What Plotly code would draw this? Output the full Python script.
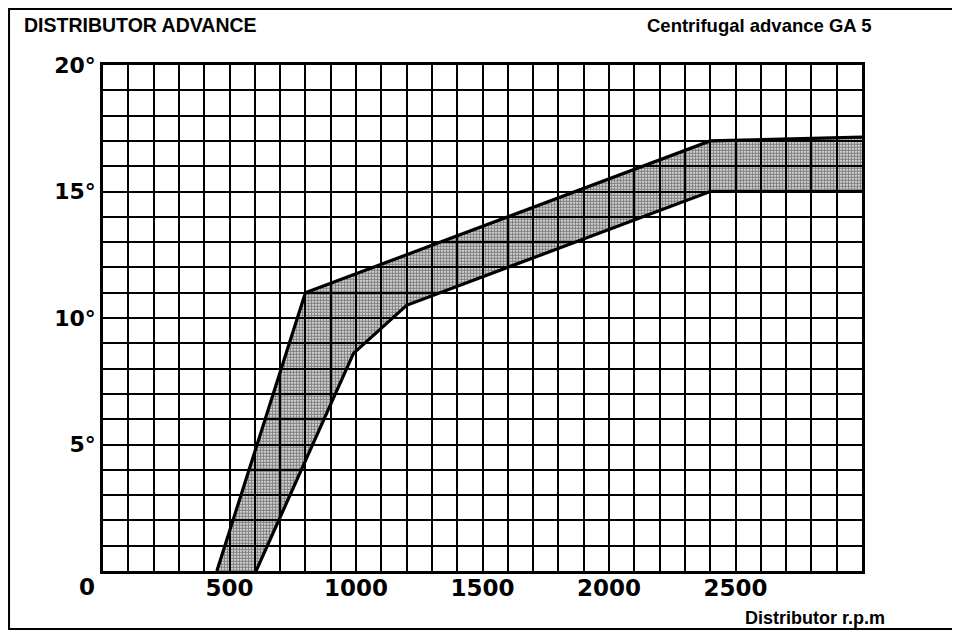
import plotly.graph_objects as go

# Data
upper_rpm = [450, 800, 2400, 3000]
upper_deg = [0, 11, 17, 17.15]
lower_rpm = [605, 990, 1200, 2400, 3000]
lower_deg = [0, 8.6, 10.5, 15, 15]

x_tick_vals = [500, 1000, 1500, 2000, 2500]
x_tick_text = ["500", "1000", "1500", "2000", "2500"]
y_tick_vals = [5, 10, 15, 20]
y_tick_text = ["5°", "10°", "15°", "20°"]

fig = go.Figure()

# Shaded band
poly_x = upper_rpm + lower_rpm[::-1]
poly_y = upper_deg + lower_deg[::-1]
fig.add_trace(go.Scatter(
    x=poly_x, y=poly_y, mode="lines", fill="toself",
    line=dict(width=0, color="rgba(0,0,0,0)"),
    fillcolor="rgba(0,0,0,0)",
    fillpattern=dict(shape=".", fgcolor="#000000", bgcolor="rgba(0,0,0,0)",
                     size=3, solidity=0.7),
    hoverinfo="skip", showlegend=False,
))

fig.add_trace(go.Scatter(x=upper_rpm, y=upper_deg, mode="lines",
                         line=dict(color="black", width=3.2), showlegend=False))
fig.add_trace(go.Scatter(x=lower_rpm, y=lower_deg, mode="lines",
                         line=dict(color="black", width=3.2), showlegend=False))

x_tick_font = dict(family="DejaVu Sans", size=23, color="black", weight="bold")
y_tick_font = dict(family="DejaVu Sans", size=22, color="black", weight="bold")

fig.update_layout(
    width=952, height=624, autosize=False,
    margin=dict(l=95, r=98, t=57, b=61),
    paper_bgcolor="white", plot_bgcolor="white",
    showlegend=False,
    xaxis=dict(
        range=[0, 3000], tickvals=x_tick_vals, ticktext=x_tick_text,
        tickfont=x_tick_font, ticks="", ticklabelstandoff=-5,
        showgrid=True, gridcolor="black", gridwidth=1.6,
        minor=dict(dtick=100, showgrid=True, gridcolor="black", gridwidth=1.6),
        showline=True, linecolor="black", linewidth=2.6, mirror=True,
        zeroline=False, fixedrange=True,
    ),
    yaxis=dict(
        range=[0, 20], tickvals=y_tick_vals, ticktext=y_tick_text,
        tickfont=y_tick_font, ticks="", showgrid=True, gridcolor="black", gridwidth=1.6,
        minor=dict(dtick=1, showgrid=True, gridcolor="black", gridwidth=1.6),
        showline=True, linecolor="black", linewidth=2.6, mirror=True,
        zeroline=False, fixedrange=True,
    ),
    annotations=[
        dict(text="DISTRIBUTOR ADVANCE", xref="paper", yref="paper",
             x=-0.1067, y=1.079, xanchor="left", yanchor="middle", showarrow=False,
             font=dict(family="Liberation Sans", size=19.5, color="black", weight="bold")),
        dict(text="Centrifugal advance GA 5", xref="paper", yref="paper",
             x=1.014, y=1.079, xanchor="right", yanchor="middle", showarrow=False,
             font=dict(family="Liberation Sans", size=18.5, color="black", weight="bold")),
        dict(text="0", xref="paper", yref="paper",
             x=-0.0205, y=-0.0316, xanchor="center", yanchor="middle", showarrow=False,
             font=x_tick_font),
        dict(text="Distributor r.p.m", xref="paper", yref="paper",
             x=1.033, y=-0.0929, xanchor="right", yanchor="middle", showarrow=False,
             font=dict(family="Liberation Sans", size=18, color="black", weight="bold")),
    ],
    shapes=[
        dict(type="rect", xref="paper", yref="paper",
             x0=-0.1238, x1=1.1225, y0=-0.1146, y1=1.1107,
             line=dict(color="black", width=2), fillcolor="rgba(0,0,0,0)", layer="below"),
    ],
)

fig.write_html("out.html")
